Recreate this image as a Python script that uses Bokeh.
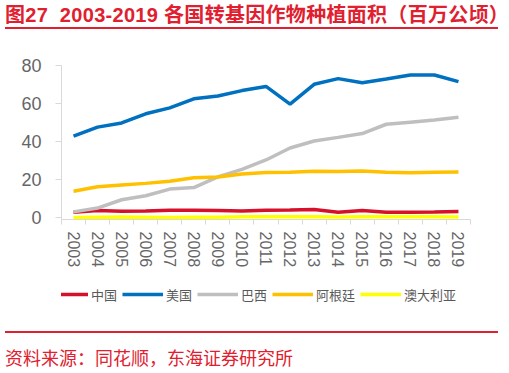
from bokeh.plotting import figure
from bokeh.models import Range1d, FixedTicker, Legend, LegendItem, Div, ColumnDataSource
from bokeh.layouts import column
from bokeh.embed import file_html
from bokeh.resources import INLINE

years = list(range(2003, 2020))
year_labels = [str(y) for y in years]
china = [2.8, 3.7, 3.3, 3.5, 3.8, 3.8, 3.7, 3.5, 3.9, 4.0, 4.2, 2.8, 3.7, 2.8, 2.8, 2.9, 3.2]
usa = [42.8, 47.6, 49.8, 54.6, 57.7, 62.5, 64.0, 66.8, 69.0, 59.7, 70.1, 73.1, 70.9, 72.9, 75.0, 75.0, 71.5]
brazil = [3.0, 5.0, 9.4, 11.5, 15.0, 15.8, 21.4, 25.4, 30.3, 36.6, 40.3, 42.2, 44.2, 49.1, 50.2, 51.3, 52.8]
argentina = [13.9, 16.2, 17.1, 18.0, 19.1, 21.0, 21.3, 22.9, 23.7, 23.9, 24.4, 24.3, 24.5, 23.8, 23.6, 23.9, 24.0]
australia = [0.1, 0.2, 0.3, 0.2, 0.1, 0.2, 0.2, 0.4, 0.4, 0.4, 0.4, 0.3, 0.4, 0.5, 0.5, 0.4, 0.3]
series_names = ["中国", "美国", "巴西", "阿根廷", "澳大利亚"]
y_ticks = [0, 20, 40, 60, 80]

title_text = "图27&nbsp;&nbsp;2003-2019 各国转基因作物种植面积（百万公顷）"
source_text = "资料来源：同花顺，东海证券研究所"

RED = "#E0202F"
colors = ["#D7102A", "#0070C0", "#BFBFBF", "#FFC000", "#FFFF00"]
W = 493

header = Div(text=title_text, width=W, height=24,
             styles={"color": RED, "font-size": "20px", "font-weight": "bold",
                     "letter-spacing": "0.3px",
                     "font-family": "'Liberation Sans', 'Noto Sans CJK SC', sans-serif",
                     "border-bottom": "2px solid " + RED,
                     "line-height": "21px", "white-space": "nowrap", "overflow": "visible"})

p = figure(width=W, height=250, output_backend="svg", toolbar_location=None,
           x_range=Range1d(years[0] - 0.5, years[-1] + 0.5), y_range=Range1d(-1, 80),
           min_border_left=61, min_border_right=23, min_border_top=31, min_border_bottom=65)
p.outline_line_color = None
p.xgrid.visible = False
p.ygrid.visible = False
p.background_fill_color = "white"
p.border_fill_color = "white"

data = {"x": years, "c0": china, "c1": usa, "c2": brazil, "c3": argentina, "c4": australia}
src = ColumnDataSource(data)
for i, name in enumerate(series_names):
    p.line("x", "c%d" % i, source=src, line_color=colors[i], line_width=3.5)

xa = p.xaxis[0]
xa.ticker = FixedTicker(ticks=years, minor_ticks=[y + 0.5 for y in years[:-1]] + [years[0] - 0.5, years[-1] + 0.5])
xa.major_label_overrides = {y: l for y, l in zip(years, year_labels)}
xa.major_label_orientation = "vertical"
xa.major_tick_line_color = None
xa.major_tick_out = 5
xa.major_tick_in = 0
xa.minor_tick_out = 5
xa.minor_tick_in = 0
xa.minor_tick_line_color = "#D9D9D9"
xa.axis_line_color = "#D9D9D9"
xa.major_label_standoff = 7
xa.major_label_text_font = "Liberation Sans"
xa.major_label_text_font_size = "16px"
xa.major_label_text_color = "#666666"

ya = p.yaxis[0]
ya.ticker = FixedTicker(ticks=y_ticks)
ya.minor_tick_line_color = None
ya.major_tick_out = 6
ya.major_tick_in = 0
ya.major_tick_line_color = "#D9D9D9"
ya.axis_line_color = "#D9D9D9"
ya.major_label_standoff = 14
ya.major_label_text_font = "Liberation Sans"
ya.major_label_text_font_size = "18px"
ya.major_label_text_color = "#666666"

# legend strip: same series (out of this strip's view), used only for the legend samples
lp = figure(width=W, height=42, output_backend="svg", toolbar_location=None,
            x_axis_type=None, y_axis_type=None, x_range=Range1d(0, 1), y_range=Range1d(-10, -9),
            min_border=0)
lp.outline_line_color = None
lp.xgrid.visible = False
lp.ygrid.visible = False
items = []
for i, name in enumerate(series_names):
    r = lp.line("x", "c%d" % i, source=src, line_color=colors[i], line_width=3.5)
    items.append(LegendItem(label=name, renderers=[r]))
legend = Legend(items=items, orientation="horizontal", location=(-14, 22),
                glyph_width=41, glyph_height=20, label_standoff=3, spacing=5,
                padding=0, margin=0, border_line_color=None, background_fill_alpha=0,
                label_text_font="Noto Sans CJK SC", label_text_font_size="13px",
                label_text_color="#595959", label_height=20, label_width=10)
lp.add_layout(legend, "center")

footer = Div(text=source_text, width=W, height=18,
             styles={"color": RED, "font-size": "18px",
                     "font-family": "'Noto Sans CJK SC', sans-serif",
                     "border-top": "2px solid " + RED,
                     "padding-top": "15px", "line-height": "18px", "white-space": "nowrap",
                     "overflow": "visible"})

layout = column(header, p, lp, footer, spacing=0)
open("out.html", "w").write(file_html(layout, INLINE))
